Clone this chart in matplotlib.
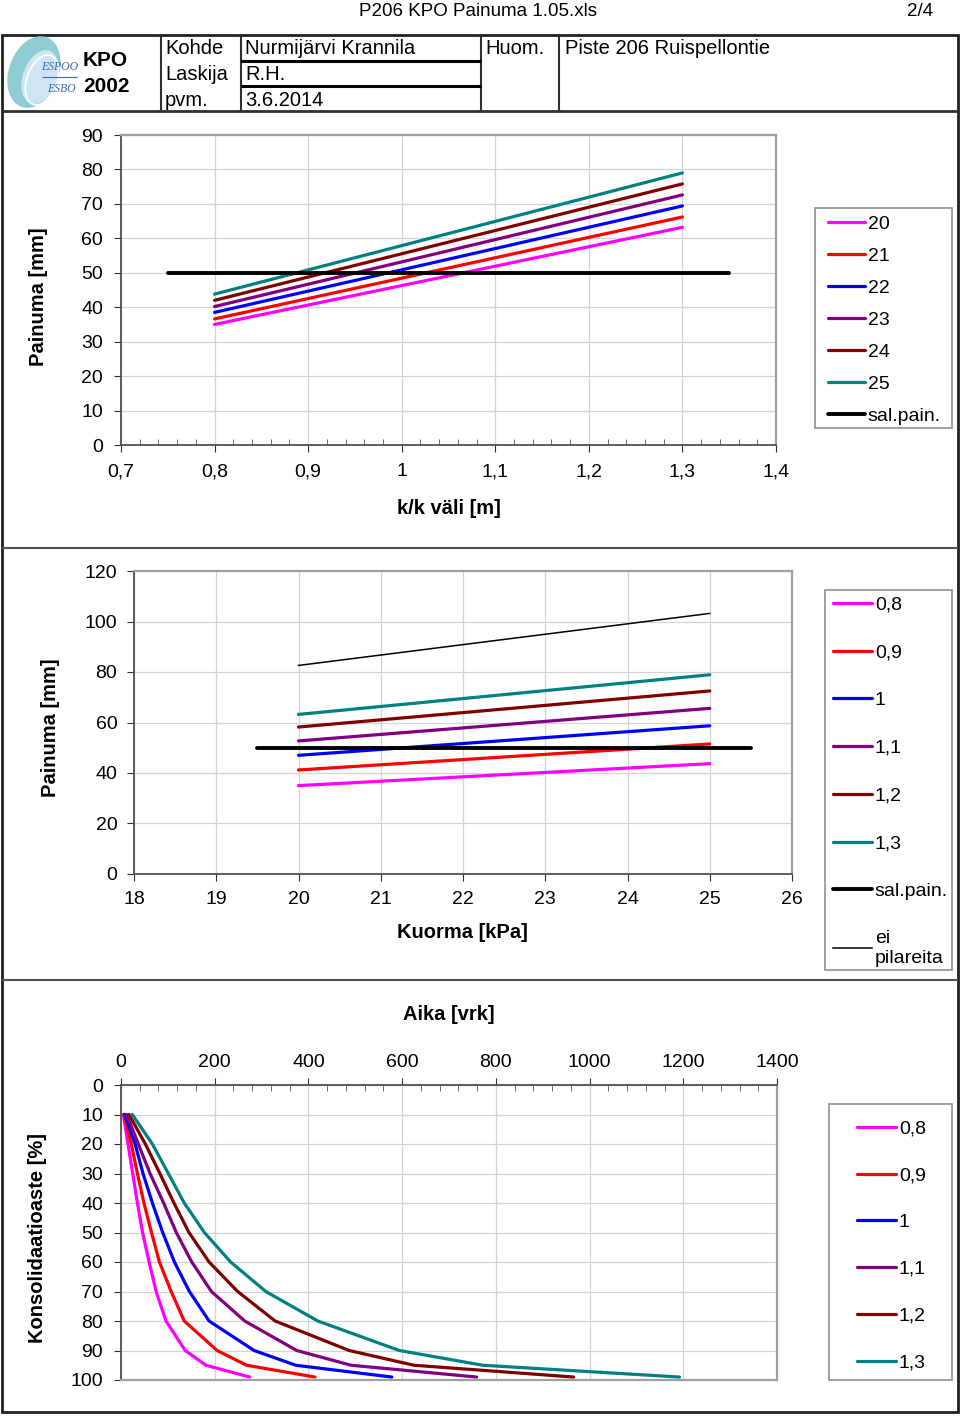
import matplotlib
matplotlib.use('Agg')
import matplotlib.pyplot as plt
from matplotlib.patches import Ellipse, Rectangle
from matplotlib.ticker import FuncFormatter, MultipleLocator

plt.rcParams['font.family'] = ['Liberation Sans', 'DejaVu Sans']

# colours of the series (spacing 0.8 ... 1.3 / load 20 ... 25)
colors = ['#FF00FF', '#FF0000', '#0000FF', '#800080', '#800000', '#008080']

# chart 1: settlement vs pile spacing, one line per load
kk_x = [0.8, 1.3]
load_labels = ['20', '21', '22', '23', '24', '25']
settle_load20 = [35.0, 63.2]
settle_load21 = [36.6, 66.2]
settle_load22 = [38.5, 69.4]
settle_load23 = [40.2, 72.6]
settle_load24 = [42.0, 75.8]
settle_load25 = [43.8, 79.0]
sal_x1 = [0.75, 1.35]
sal_pain = [50, 50]

# chart 2: settlement vs load, one line per spacing
load_x = [20, 25]
spacing_labels = ['0,8', '0,9', '1', '1,1', '1,2', '1,3']
settle_s08 = [35.0, 43.7]
settle_s09 = [41.2, 51.5]
settle_s10 = [47.0, 58.7]
settle_s11 = [52.7, 65.6]
settle_s12 = [58.2, 72.5]
settle_s13 = [63.2, 78.9]
ei_pilareita = [82.6, 103.2]
sal_x2 = [19.5, 25.5]

# chart 3: consolidation degree vs time
cons_u = [10, 20, 30, 40, 50, 60, 70, 80, 90, 95, 99]
t_s08 = [5, 15, 25, 35, 46, 60, 75, 96, 137, 181, 275]
t_s09 = [6, 22, 35, 49, 65, 82, 107, 135, 205, 268, 414]
t_s10 = [8, 30, 47, 67, 89, 114, 146, 188, 284, 373, 578]
t_s11 = [12, 37, 62, 91, 118, 151, 193, 264, 375, 491, 759]
t_s12 = [17, 52, 83, 113, 145, 188, 249, 329, 487, 625, 966]
t_s13 = [24, 67, 101, 135, 178, 234, 309, 420, 594, 772, 1192]

W, H = 960, 1416
fig = plt.figure(figsize=(W / 100, H / 100), dpi=100)

# page layer in pixel coordinates
page = fig.add_axes([0, 0, 1, 1])
page.set_xlim(0, W)
page.set_ylim(H, 0)
page.axis('off')


def hline(y, x0, x1, lw=1.5, c='#303030'):
    page.plot([x0, x1], [y, y], color=c, lw=lw, solid_capstyle='butt')


def vline(x, y0, y1, lw=1.5, c='#303030'):
    page.plot([x, x], [y0, y1], color=c, lw=lw, solid_capstyle='butt')


page.text(478, 11, 'P206 KPO Painuma 1.05.xls', ha='center', va='center', fontsize=13.5)
page.text(920, 11, '2/4', ha='center', va='center', fontsize=13.5)

# frame and header cells
page.add_patch(Rectangle((2, 35), 956, 1377, fill=False, ec='#202020', lw=2))
hline(111, 2, 958, lw=2)
for x in [161, 241, 481, 559]:
    vline(x, 35, 111, lw=1.5)
hline(61, 241, 481, lw=2.2, c='black')
hline(86, 241, 481, lw=2.2, c='black')
hline(548, 2, 958, lw=1.5, c='#505050')
hline(980, 2, 958, lw=1.5, c='#505050')

# logo
page.add_patch(Ellipse((34, 72), 50, 74, angle=20, fc='#8fcbd3', ec='none'))
page.add_patch(Ellipse((40, 77), 34, 56, angle=20, fc='#cfe5f6', ec='none'))
page.add_patch(Ellipse((42, 80), 30, 52, angle=20, fill=False, ec='white', lw=1.2))
page.text(60, 67, 'ESPOO', fontsize=8.5, style='italic', family='Liberation Serif',
          color='#3b68b0', ha='center', va='center')
hline(77, 42, 77, lw=0.8, c='#3b68b0')
page.text(61, 89, 'ESBO', fontsize=8.5, style='italic', family='Liberation Serif',
          color='#3b68b0', ha='center', va='center')
page.text(83, 60, 'KPO', fontsize=15, fontweight='bold', va='center')
page.text(83, 87, '2002', fontsize=15, fontweight='bold', va='center')

hdr = dict(fontsize=14.5, va='center')
page.text(165, 48, 'Kohde', **hdr)
page.text(165, 74, 'Laskija', **hdr)
page.text(165, 100, 'pvm.', **hdr)
page.text(245, 48, 'Nurmijärvi Krannila', **hdr)
page.text(245, 74, 'R.H.', **hdr)
page.text(245, 100, '3.6.2014', **hdr)
page.text(485, 48, 'Huom.', **hdr)
page.text(565, 48, 'Piste 206 Ruispellontie', **hdr)


def add_ax(l, t, r, b):
    return fig.add_axes([l / W, 1 - b / H, (r - l) / W, (b - t) / H])


def comma(v, pos):
    return ('%g' % v).replace('.', ',')


def style_ax(ax, dark=('left', 'bottom')):
    ax.grid(True, color='#d4d4d4', lw=0.9)
    ax.set_axisbelow(True)
    for s in ax.spines:
        if s in dark:
            ax.spines[s].set_color('#505050')
            ax.spines[s].set_linewidth(1.3)
        else:
            ax.spines[s].set_color('#a0a0a0')
            ax.spines[s].set_linewidth(1.6)
    ax.tick_params(labelsize=14, colors='#303030', labelcolor='black')


def add_legend(ax, handles, labels, box, x_entries, y_entries, spacing, hlen=1.9):
    # frame drawn on the page, entries placed by the legend itself
    x0, y0, x1, y1 = box
    page.add_patch(Rectangle((x0, y0), x1 - x0, y1 - y0, fill=False,
                             ec='#909090', lw=1.2))
    ax.legend(handles, labels, loc='upper left',
              bbox_to_anchor=(x_entries / W, 1 - y_entries / H),
              bbox_transform=fig.transFigure, borderaxespad=0,
              frameon=False, fontsize=14, handlelength=hlen,
              handletextpad=0.15, labelspacing=spacing, borderpad=0)


lw_series = 2.3

# ---- chart 1
ax1 = add_ax(121, 135, 776, 445)
series1 = [settle_load20, settle_load21, settle_load22,
           settle_load23, settle_load24, settle_load25]
h1 = []
for s, c in zip(series1, colors):
    h1 += ax1.plot(kk_x, s, color=c, lw=lw_series, solid_capstyle='round')
h1 += ax1.plot(sal_x1, sal_pain, color='black', lw=2.8, solid_capstyle='round')
ax1.set_xlim(0.7, 1.4)
ax1.set_ylim(0, 90)
ax1.xaxis.set_major_locator(MultipleLocator(0.1))
ax1.xaxis.set_minor_locator(MultipleLocator(0.02))
ax1.yaxis.set_major_locator(MultipleLocator(10))
ax1.xaxis.set_major_formatter(FuncFormatter(comma))
style_ax(ax1)
ax1.tick_params(axis='both', which='major', direction='out', length=5, pad=8)
ax1.tick_params(axis='x', which='minor', direction='in', length=4, color='#505050')
ax1.grid(False, which='minor')
add_legend(ax1, h1, load_labels + ['sal.pain.'], (815, 208, 952, 428),
           828, 215, 0.74)
page.text(38, 297, 'Painuma [mm]', rotation=90, ha='center', va='center',
          fontsize=14.5, fontweight='bold')
page.text(449, 509, 'k/k väli [m]', ha='center', va='center',
          fontsize=14.5, fontweight='bold')

# ---- chart 2
ax2 = add_ax(134, 571, 792, 874)
series2 = [settle_s08, settle_s09, settle_s10, settle_s11, settle_s12, settle_s13]
h2 = []
for s, c in zip(series2, colors):
    h2 += ax2.plot(load_x, s, color=c, lw=lw_series, solid_capstyle='round')
h2 += ax2.plot(sal_x2, sal_pain, color='black', lw=2.8, solid_capstyle='round')
h2 += ax2.plot(load_x, ei_pilareita, color='black', lw=1.1)
ax2.set_xlim(18, 26)
ax2.set_ylim(0, 120)
ax2.xaxis.set_major_locator(MultipleLocator(1))
ax2.yaxis.set_major_locator(MultipleLocator(20))
style_ax(ax2)
ax2.tick_params(axis='both', which='major', direction='out', length=5, pad=7)
add_legend(ax2, h2, spacing_labels + ['sal.pain.', 'ei\npilareita'],
           (825, 590, 952, 970), 833, 596, 1.55, hlen=2.0)
page.text(50, 728, 'Painuma [mm]', rotation=90, ha='center', va='center',
          fontsize=14.5, fontweight='bold')
page.text(462, 932, 'Kuorma [kPa]', ha='center', va='center',
          fontsize=14.5, fontweight='bold')

# ---- chart 3
ax3 = add_ax(121, 1085, 777, 1380)
series3 = [t_s08, t_s09, t_s10, t_s11, t_s12, t_s13]
h3 = []
for s, c in zip(series3, colors):
    h3 += ax3.plot(s, cons_u, color=c, lw=lw_series, solid_capstyle='round')
ax3.set_xlim(0, 1400)
ax3.set_ylim(100, 0)
ax3.xaxis.set_major_locator(MultipleLocator(200))
ax3.xaxis.set_minor_locator(MultipleLocator(40))
ax3.yaxis.set_major_locator(MultipleLocator(10))
ax3.xaxis.tick_top()
style_ax(ax3, dark=('left', 'top'))
ax3.tick_params(axis='both', which='major', direction='out', length=5, pad=8)
ax3.tick_params(axis='x', which='major', pad=5)
ax3.tick_params(axis='x', which='minor', direction='in', length=4, color='#505050')
ax3.grid(False, which='minor')
add_legend(ax3, h3, spacing_labels, (829, 1104, 952, 1380), 857, 1120, 1.5,
           hlen=2.0)
page.text(38, 1238, 'Konsolidaatioaste [%]', rotation=90, ha='center', va='center',
          fontsize=14.5, fontweight='bold')
page.text(449, 1015, 'Aika [vrk]', ha='center', va='center',
          fontsize=14.5, fontweight='bold')

fig.savefig('out.png', dpi=100)
